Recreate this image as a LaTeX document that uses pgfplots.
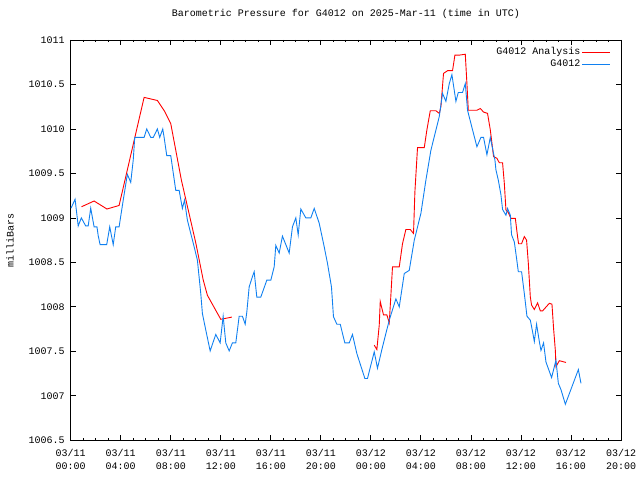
\documentclass[border=0pt]{standalone}
\usepackage{pgfplots}
\pgfplotsset{compat=1.18}
\usepackage{fontspec}
\setmainfont{Liberation Mono}
\definecolor{gred}{RGB}{255,0,0}
\definecolor{gblue}{RGB}{16,128,240}
\begin{document}
\fontsize{10bp}{12bp}\selectfont
\begin{tikzpicture}
\path[use as bounding box] (-70.7bp,-39.7bp) rectangle (569.3bp,440.3bp);
\begin{axis}[
  at={(0,0)}, anchor=south west, scale only axis,
  width=550.3bp, height=400.3bp,
  xmin=0, xmax=44, ymin=1006.5, ymax=1011,
  xtick={0,4,...,44},
  xticklabels={{03/11\\00:00},{03/11\\04:00},{03/11\\08:00},{03/11\\12:00},{03/11\\16:00},{03/11\\20:00},{03/12\\00:00},{03/12\\04:00},{03/12\\08:00},{03/12\\12:00},{03/12\\16:00},{03/12\\20:00}},
  minor x tick num=3,
  ytick={1006.5,1007,...,1011},
  tick align=inside,
  major tick length=5bp, minor tick length=2.5bp,
  every tick/.style={black, line width=0.8bp},
  axis line style={line width=0.8bp},
  xticklabel style={align=center, font=\fontsize{10bp}{13.3bp}\selectfont, yshift=-5.5bp},
  yticklabel style={xshift=-2.5bp, /pgf/number format/.cd, fixed, precision=1, 1000 sep={}, assume math mode=true},
  ylabel={milliBars},
  ylabel style={at={(axis description cs:-0.110,0.5)}, anchor=center},
  title={Barometric Pressure for G4012 on 2025-Mar-11 (time in UTC)},
  title style={at={(axis description cs:0.5,1)}, anchor=center, yshift=20bp, font=\fontsize{10bp}{12bp}\selectfont},
  legend style={at={(axis description cs:1,1)}, anchor=north east, xshift=-7bp, yshift=-4bp, draw=none, fill=none, row sep=0.5bp, nodes={inner sep=1.5bp}},
  legend cell align=right,
  legend plot pos=right,
  legend image code/.code={\draw[#1] (0bp,0bp) -- (28bp,0bp);},
]
\addplot[gred, line width=0.9bp] table {
0.86 1009.125
1.87 1009.19
2.9 1009.10
3.87 1009.14
5.87 1010.355
6.93 1010.32
7.5 1010.2
8.0 1010.06
8.85 1009.425
10.0 1008.72
10.6 1008.30
10.93 1008.13
12.0 1007.86
12.88 1007.885
};
\addlegendentry{G4012 Analysis}
\addplot[gred, line width=0.9bp, forget plot] table {
24.27 1007.57
24.48 1007.52
24.67 1007.795
24.75 1008.06
25.01 1007.91
25.28 1007.91
25.47 1007.82
25.6 1008.13
25.73 1008.45
26.27 1008.45
26.53 1008.71
26.8 1008.87
27.15 1008.87
27.41 1008.825
27.52 1009.29
27.73 1009.79
28.27 1009.79
28.48 1009.99
28.75 1010.205
29.2 1010.205
29.47 1010.175
29.6 1010.25
29.81 1010.625
30.13 1010.655
30.53 1010.655
30.72 1010.83
31.07 1010.83
31.55 1010.84
31.68 1010.51
31.79 1010.21
32.13 1010.21
32.48 1010.21
32.75 1010.23
33.01 1010.19
33.33 1010.175
33.55 1009.99
33.65 1009.875
33.81 1009.69
34.08 1009.67
34.27 1009.62
34.53 1009.62
34.67 1009.39
34.8 1009.09
34.99 1009.06
35.2 1008.995
35.55 1008.995
35.73 1008.79
35.81 1008.71
36.05 1008.71
36.27 1008.79
36.45 1008.75
36.59 1008.49
36.75 1008.11
36.85 1008.02
37.07 1007.97
37.33 1008.045
37.55 1007.955
37.73 1007.955
38.27 1008.04
38.48 1008.03
38.61 1007.755
38.75 1007.51
38.8 1007.325
38.93 1007.36
39.07 1007.395
39.6 1007.375
};
\addplot[gblue, line width=0.9bp] table {
0.03 1009.11
0.35 1009.21
0.6 1008.91
0.85 1009.0
1.2 1008.91
1.4 1008.91
1.6 1009.11
1.87 1008.90
2.1 1008.90
2.2 1008.80
2.35 1008.70
2.88 1008.70
3.12 1008.90
3.4 1008.70
3.6 1008.90
3.87 1008.90
4.2 1009.2
4.53 1009.49
4.8 1009.40
5.0 1009.65
5.12 1009.905
5.87 1009.905
6.08 1010.0
6.4 1009.905
6.6 1009.905
6.93 1010.0
7.12 1009.905
7.36 1010.0
7.47 1009.905
7.68 1009.70
8.0 1009.70
8.4 1009.31
8.67 1009.31
8.93 1009.107
9.1 1009.2
9.33 1008.975
9.87 1008.675
10.13 1008.525
10.4 1008.15
10.53 1007.925
10.8 1007.74
11.15 1007.505
11.6 1007.69
11.95 1007.595
12.19 1007.895
12.4 1007.595
12.67 1007.505
12.93 1007.595
13.2 1007.595
13.47 1007.895
13.73 1007.895
13.95 1007.805
14.08 1007.94
14.27 1008.225
14.53 1008.34
14.67 1008.395
14.88 1008.11
15.2 1008.11
15.68 1008.30
16.0 1008.30
16.27 1008.45
16.4 1008.69
16.67 1008.605
16.93 1008.795
17.47 1008.605
17.73 1008.9
18.0 1009.0
18.19 1008.81
18.4 1009.10
18.8 1009.0
19.2 1009.0
19.47 1009.107
19.87 1008.94
20.27 1008.675
20.53 1008.49
20.85 1008.225
21.01 1007.89
21.28 1007.805
21.55 1007.805
21.92 1007.595
22.27 1007.595
22.53 1007.69
22.88 1007.475
23.52 1007.195
23.73 1007.195
24.27 1007.495
24.53 1007.31
24.93 1007.55
25.47 1007.85
26.0 1008.09
26.27 1008.0
26.67 1008.375
27.07 1008.41
27.47 1008.75
28.0 1009.05
28.4 1009.425
28.8 1009.76
29.47 1010.14
29.73 1010.40
30.0 1010.31
30.27 1010.51
30.48 1010.61
30.8 1010.31
30.99 1010.41
31.33 1010.41
31.55 1010.51
31.73 1010.21
32.13 1009.99
32.48 1009.80
32.8 1009.905
33.01 1009.905
33.28 1009.71
33.55 1009.905
33.73 1009.78
33.92 1009.65
34.0 1009.54
34.19 1009.425
34.4 1009.26
34.53 1009.095
34.8 1009.03
34.93 1009.107
35.15 1009.03
35.25 1008.81
35.47 1008.73
35.65 1008.545
35.79 1008.395
36.05 1008.395
36.27 1008.15
36.48 1007.895
36.75 1007.85
36.93 1007.72
37.07 1007.61
37.25 1007.805
37.47 1007.61
37.6 1007.51
37.81 1007.595
38.0 1007.38
38.45 1007.205
38.8 1007.40
38.99 1007.14
39.2 1007.07
39.55 1006.905
40.59 1007.295
40.8 1007.14
};
\addlegendentry{G4012}
\end{axis}
\end{tikzpicture}
\end{document}
